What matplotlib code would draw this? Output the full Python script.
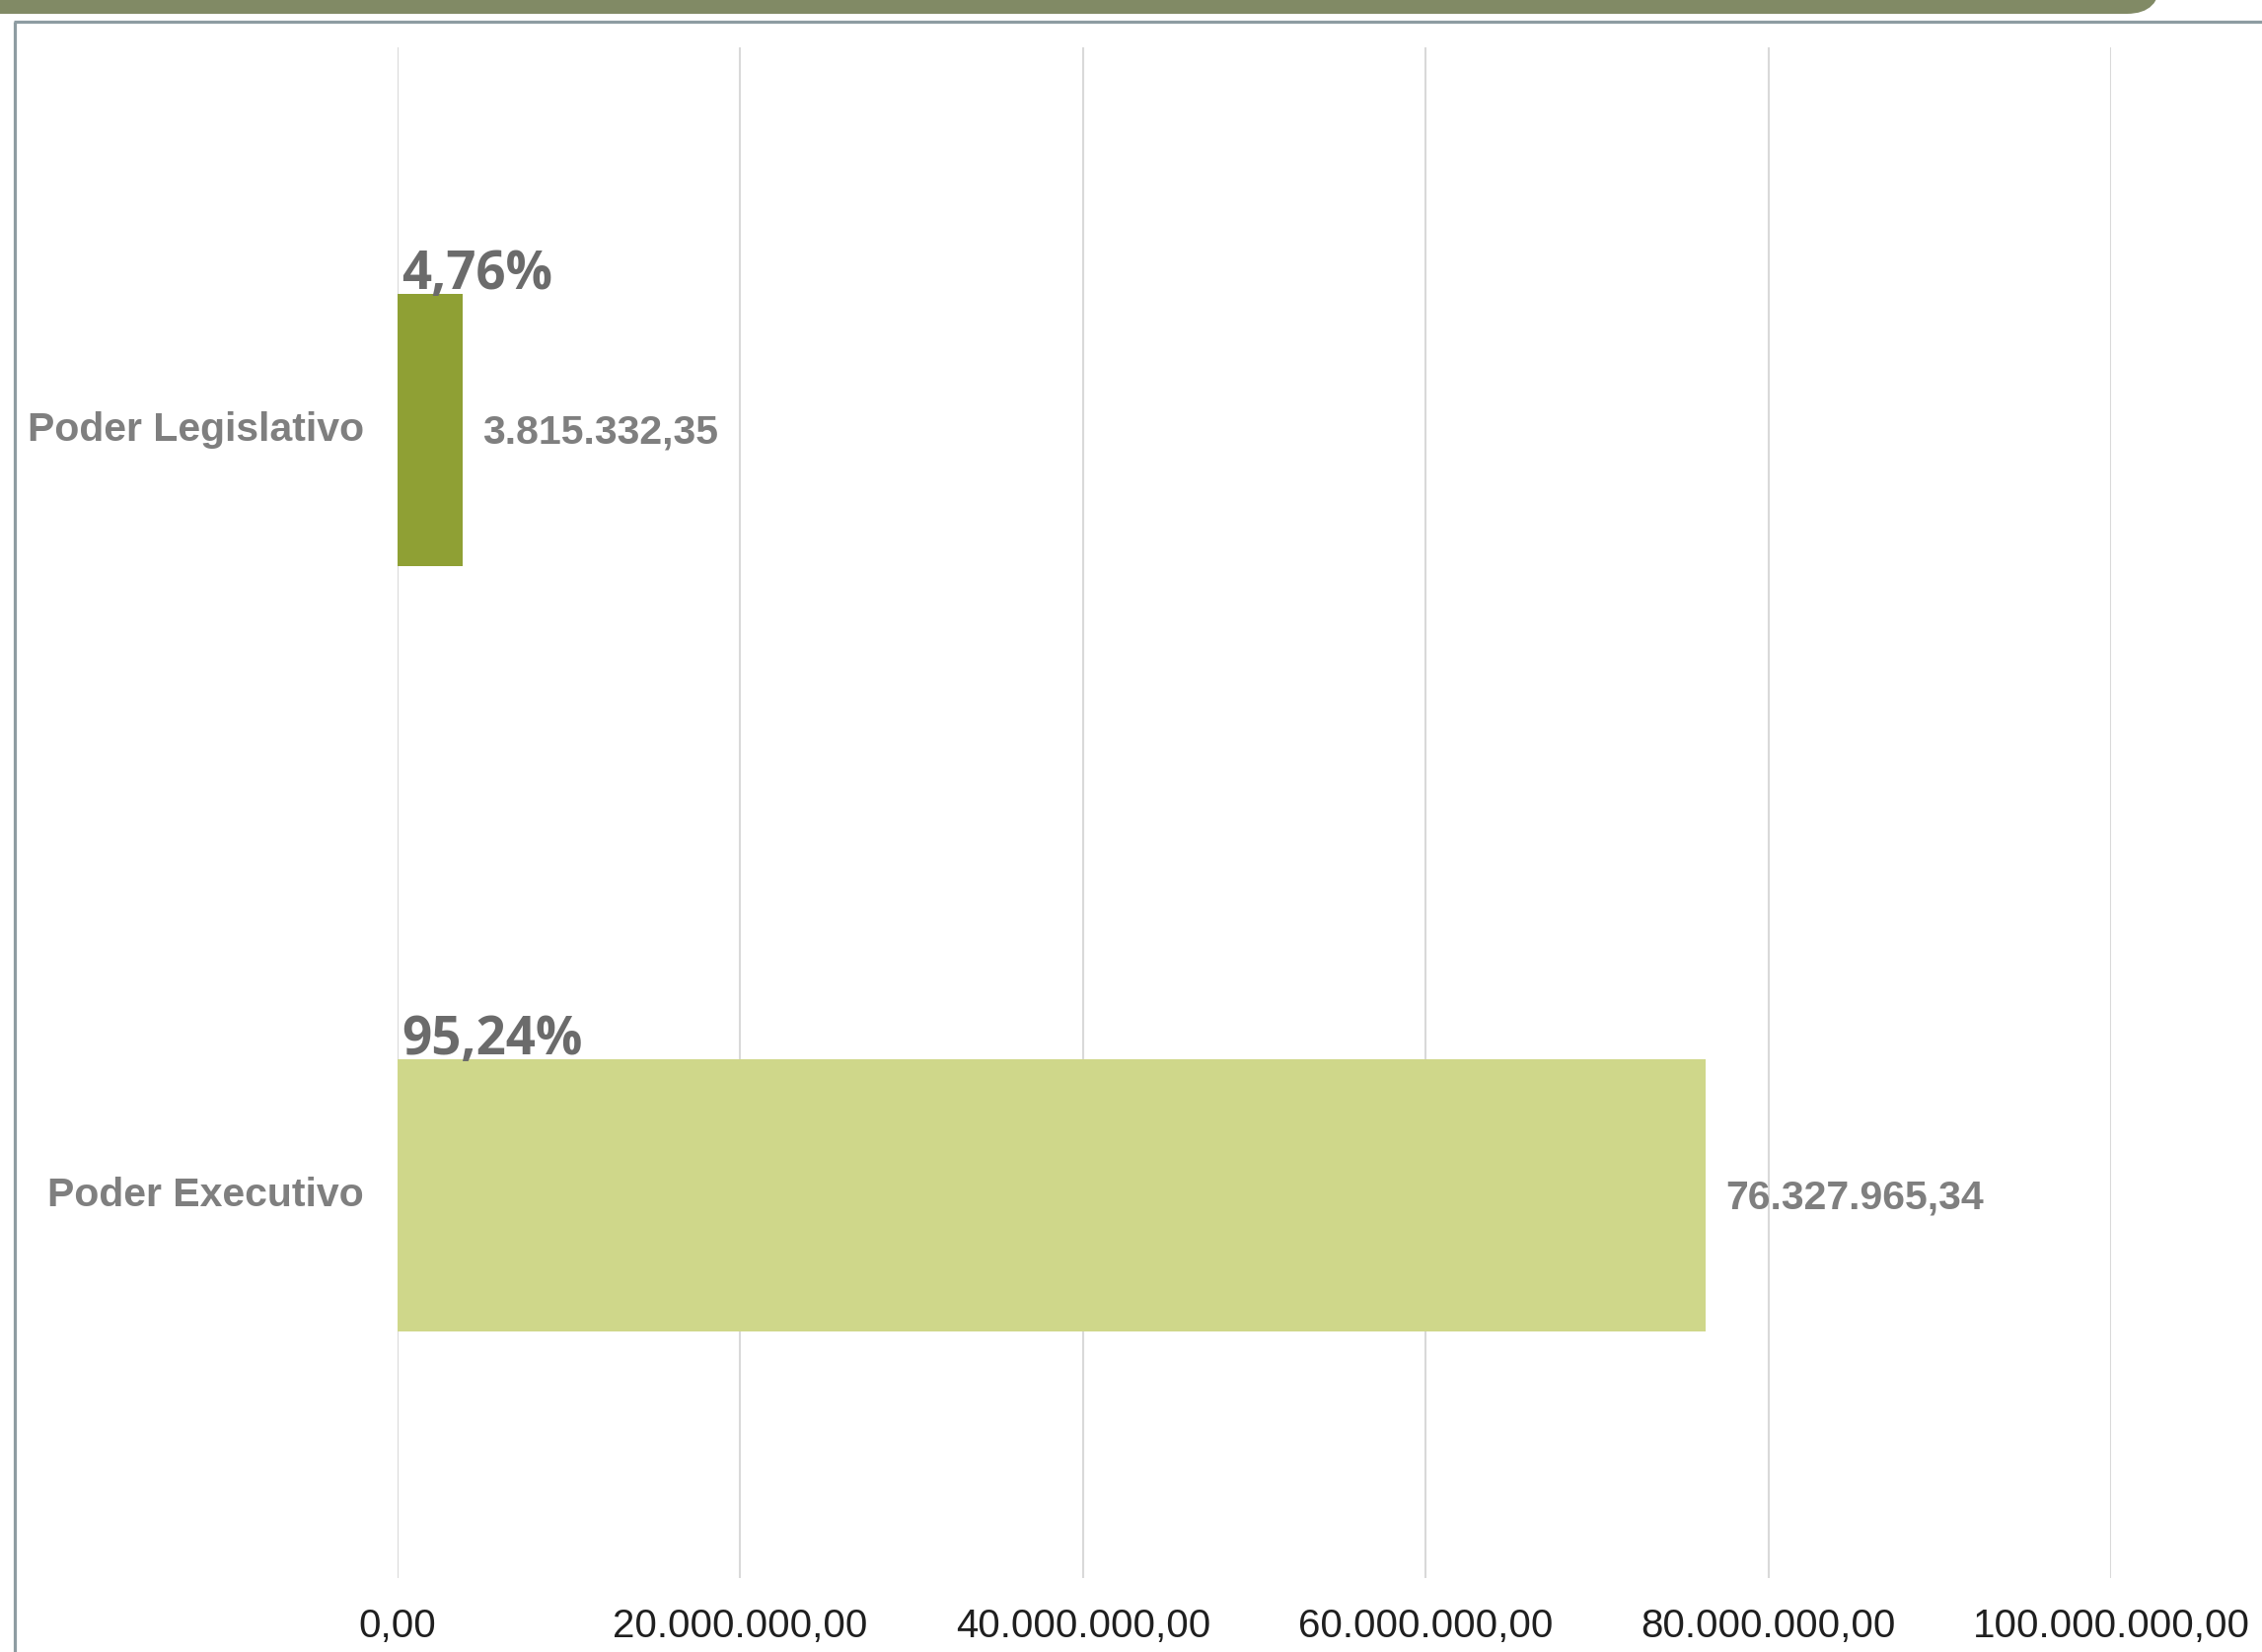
import matplotlib
matplotlib.use("Agg")
import matplotlib.pyplot as plt
from matplotlib.patches import FancyBboxPatch
from matplotlib.lines import Line2D
from matplotlib.transforms import IdentityTransform
from matplotlib.ticker import FuncFormatter

# ---- data ----
categories = ["Poder Legislativo", "Poder Executivo"]
values = [3815332.35, 76327965.34]
percents = [4.76, 95.24]
bar_colors = ["#8fa034", "#cfd78a"]
x_ticks = [0, 20e6, 40e6, 60e6, 80e6, 100e6]


def br_format(v, decimals=2):
    s = f"{v:,.{decimals}f}"
    return s.replace(",", "X").replace(".", ",").replace("X", ".")


W, H = 2293, 1675
DPI = 100
fig = plt.figure(figsize=(W / DPI, H / DPI), dpi=DPI)
fig.patch.set_facecolor("white")

# header band (olive, rounded bottom-right corner)
band = FancyBboxPatch((-60, H - 14), 2190 + 60, 80,
                      boxstyle="round,pad=0,rounding_size=34",
                      transform=IdentityTransform(), facecolor="#818a65",
                      edgecolor="none", zorder=1)
fig.patches.append(band)

# frame lines (top and left)
frame_col = "#8e9ca2"
fig.add_artist(Line2D([14, W + 5], [H - 22, H - 22], transform=IdentityTransform(),
                      color=frame_col, lw=2.3, solid_capstyle="butt"))
fig.add_artist(Line2D([14.5, 14.5], [H - 22, -5], transform=IdentityTransform(),
                      color=frame_col, lw=2.3, solid_capstyle="butt"))

# axes
left, right, top, bottom = 403, 2140, 48, 1600
ax = fig.add_axes([left / W, (H - bottom) / H, (right - left) / W, (bottom - top) / H])
ax.set_facecolor("none")

ypos = list(range(len(categories)))
bar_h = 0.356
ax.barh(ypos, values, height=bar_h, color=bar_colors, zorder=3)

ax.set_xlim(0, 100e6)
ax.set_ylim(1.5, -0.5)

ax.set_xticks(x_ticks)
ax.xaxis.set_major_formatter(FuncFormatter(lambda v, p: br_format(v)))
ax.set_yticks(ypos)
ax.set_yticklabels(categories)

for s in ax.spines.values():
    s.set_visible(False)

ax.grid(axis="x", color="#d9d9d9", lw=1.5, zorder=0)
ax.grid(axis="y", visible=False)

ax.tick_params(axis="x", length=0, pad=21.5, labelsize=29, labelcolor="#1f1f1f")
ax.tick_params(axis="y", length=0, pad=24.5, labelsize=29.5, labelcolor="#7f7f7f")
for lbl in ax.get_xticklabels():
    lbl.set_fontfamily("Liberation Sans")
for lbl in ax.get_yticklabels():
    lbl.set_fontfamily("Liberation Sans")
    lbl.set_fontweight("bold")
    lbl.set_verticalalignment("center")

# value labels
for y, v in zip(ypos, values):
    ax.annotate(br_format(v), xy=(v, y), xytext=(14.5, -1.5), textcoords="offset points",
                ha="left", va="center", fontsize=29.5, fontweight="bold",
                fontfamily="Liberation Sans", color="#7f7f7f", zorder=4)

# percent labels above bars
for y, p in zip(ypos, percents):
    ax.annotate(br_format(p) + "%", xy=(0, y - bar_h / 2), xytext=(3, 3.2),
                textcoords="offset points", ha="left", va="baseline",
                fontsize=38, fontweight="bold", fontfamily="Open Sans",
                color="#6b6b6b", zorder=4)

fig.savefig("out.png", dpi=DPI)
